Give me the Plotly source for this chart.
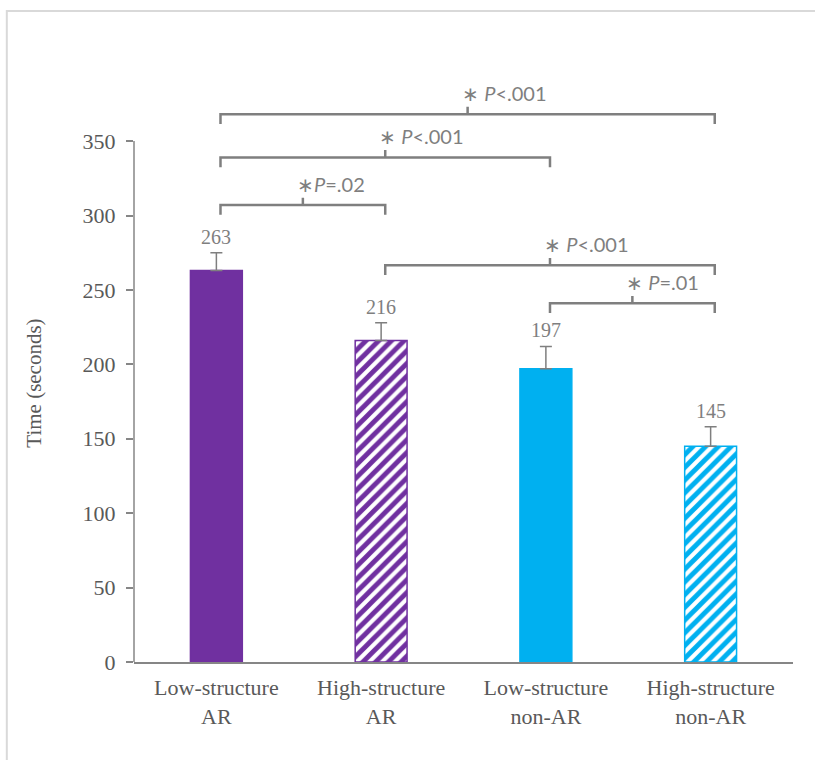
import plotly.graph_objects as go

categories = ["Low-structure<br>AR", "High-structure<br>AR", "Low-structure<br>non-AR", "High-structure<br>non-AR"]
values = [263, 216, 197, 145]
errors = [12, 12, 15, 13]
colors = ["#7030A0", "#7030A0", "#00B0F0", "#00B0F0"]
hatched = [False, True, False, True]
y_ticks = [0, 50, 100, 150, 200, 250, 300, 350]

# comparisons: (left bar, right bar, bracket level, label)
comp_left = [0, 0, 0, 1, 2]
comp_right = [3, 2, 1, 3, 3]
comp_level = [368, 339, 307, 266.5, 241]
comp_label = ["∗ <i>P</i>&lt;.001", "∗ <i>P</i>&lt;.001", "∗<i>P</i>=.02", "∗ <i>P</i>&lt;.001", "∗ <i>P</i>=.01"]

xs = list(range(len(categories)))
GRAY = "#7f7f7f"
TXT = "#595959"

fig = go.Figure()
for x, v, e, c, h in zip(xs, values, errors, colors, hatched):
    marker = dict(color=c, line=dict(color=c, width=1.5))
    if h:
        marker["pattern"] = dict(shape="/", fgcolor=c, fgopacity=1, bgcolor="white",
                                 size=9, solidity=0.55)
    fig.add_trace(go.Bar(
        x=[x], y=[v], width=0.315, marker=marker,
        error_y=dict(type="data", array=[e], arrayminus=[0], symmetric=False,
                     color=GRAY, thickness=1.5, width=6),
        showlegend=False, hoverinfo="skip",
    ))

# value labels
for x, v, e in zip(xs, values, errors):
    fig.add_annotation(x=x, y=v + e, text=str(v), showarrow=False, yanchor="bottom", yshift=3,
                       font=dict(family="Liberation Serif", size=20, color=GRAY))

# significance brackets
for l, r, lev, lab in zip(comp_left, comp_right, comp_level, comp_label):
    x1 = l + 0.025
    x2 = r + 0.025
    xm = (x1 + x2) / 2
    drop = 6.5
    path = (f"M {x1},{lev - drop} L {x1},{lev} L {x2},{lev} L {x2},{lev - drop} "
            f"M {xm},{lev} L {xm},{lev + 5}")
    fig.add_shape(type="path", path=path, xref="x", yref="y",
                  line=dict(color=GRAY, width=2.5))
    fig.add_annotation(x=xm, y=lev, text=lab, showarrow=False, xanchor="left", yanchor="middle",
                       xshift=-8, yshift=21, font=dict(family="Lato", size=20, color=GRAY))

# y axis line from 0 to 350
fig.add_shape(type="line", xref="paper", yref="y", x0=0, x1=0, y0=0, y1=350,
              line=dict(color="#868686", width=1.5))

# outer frame
fig.add_shape(type="rect", xref="paper", yref="paper", x0=-0.193, x1=1.1, y0=-0.3, y1=1.136,
              line=dict(color="#d9d9d9", width=2), fillcolor="rgba(0,0,0,0)")

# y-axis title
fig.add_annotation(xref="paper", yref="paper", x=-0.153, y=0.486, text="Time (seconds)",
                   textangle=-90, showarrow=False, xanchor="center", yanchor="middle",
                   font=dict(family="Liberation Serif", size=21, color=TXT))

fig.update_layout(
    width=815, height=760,
    margin=dict(l=134, r=22, t=89, b=98),
    plot_bgcolor="white", paper_bgcolor="white",
    barmode="overlay",
    xaxis=dict(range=[-0.5, 3.5], tickvals=xs, ticktext=categories, showgrid=False,
               showline=True, linecolor="#868686", linewidth=1.5, ticks="",
               ticklabelstandoff=5,
               tickfont=dict(family="Liberation Serif", size=22, color=TXT),
               zeroline=False),
    yaxis=dict(range=[0, 385], tickvals=y_ticks, showgrid=False, showline=False, zeroline=False,
               ticks="outside", ticklen=7, tickcolor="#868686", tickwidth=1.5,
               ticklabelstandoff=6,
               tickfont=dict(family="Liberation Serif", size=22, color=TXT)),
)

fig.write_html("out.html", config={"displayModeBar": False},
               post_script="document.body.style.margin='0';document.body.style.overflow='hidden';")
